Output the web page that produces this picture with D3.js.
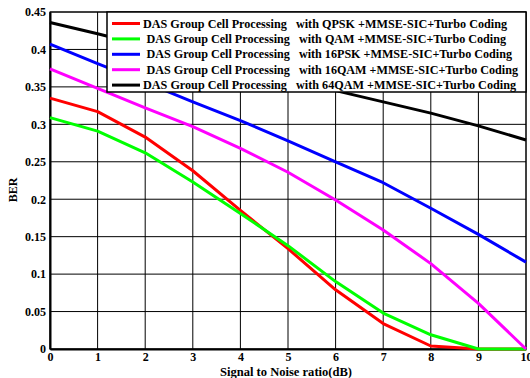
<!DOCTYPE html>
<html>
<head>
<meta charset="UTF-8">
<script src="https://cdn.jsdelivr.net/npm/d3@7"></script>
<style>
  body { margin: 0; background: #fff; }
  svg { display: block; font-family: "Liberation Serif", "Times New Roman", serif; font-weight: bold; }
</style>
</head>
<body>
<svg width="530" height="378"></svg>
<script>
const snr = [0, 1, 2, 3, 4, 5, 6, 7, 8, 9, 10];
const qpsk  = [0.335, 0.317, 0.283, 0.238, 0.185, 0.134, 0.079, 0.034, 0.004, 0, 0];
const qam   = [0.309, 0.291, 0.262, 0.223, 0.181, 0.138, 0.090, 0.048, 0.019, 0, 0];
const psk16 = [0.407, 0.381, 0.356, 0.330, 0.305, 0.278, 0.250, 0.222, 0.188, 0.153, 0.116];
const qam16 = [0.374, 0.348, 0.322, 0.297, 0.268, 0.236, 0.199, 0.159, 0.114, 0.061, 0];
const qam64 = [0.436, 0.421, 0.405, 0.390, 0.375, 0.360, 0.345, 0.330, 0.315, 0.298, 0.279];
const yTicks = [0, 0.05, 0.1, 0.15, 0.2, 0.25, 0.3, 0.35, 0.4, 0.45];
const names = [
  "DAS Group Cell Processing   with QPSK +MMSE-SIC+Turbo Coding",
  "DAS Group Cell Processing   with QAM +MMSE-SIC+Turbo Coding",
  "DAS Group Cell Processing   with 16PSK +MMSE-SIC+Turbo Coding",
  "DAS Group Cell Processing   with 16QAM +MMSE-SIC+Turbo Coding",
  "DAS Group Cell Processing   with 64QAM +MMSE-SIC+Turbo Coding"
];
const colors = ["#ff0000", "#00ff00", "#0000ff", "#ff00ff", "#000000"];
const series = [qpsk, qam, psk16, qam16, qam64];
// legend text start / end in px (to mimic the original spacing)
const legStart = [143, 146.5, 146.5, 146.5, 143];
const legEnd = [507, 506, 512, 518, 516];

const svg = d3.select("svg");
const m = { left: 50, right: 526, top: 12, bottom: 349 };
const x = d3.scaleLinear().domain([0, 10]).range([m.left, m.right]);
const y = d3.scaleLinear().domain([0, 0.45]).range([m.bottom, m.top]);

// grid
svg.append("g").selectAll("line").data(snr).join("line")
  .attr("x1", d => x(d)).attr("x2", d => x(d))
  .attr("y1", m.top).attr("y2", m.bottom)
  .attr("stroke", "#000").attr("stroke-width", 1);
svg.append("g").selectAll("line").data(yTicks).join("line")
  .attr("x1", m.left).attr("x2", m.right)
  .attr("y1", d => y(d)).attr("y2", d => y(d))
  .attr("stroke", "#000").attr("stroke-width", 1);

// frame
svg.append("rect").attr("x", m.left).attr("y", m.top)
  .attr("width", m.right - m.left).attr("height", m.bottom - m.top)
  .attr("fill", "none").attr("stroke", "#000").attr("stroke-width", 1);

// axes
const xAxis = d3.axisBottom(x).tickValues(snr).tickSize(0).tickPadding(3);
const gx = svg.append("g").attr("transform", `translate(0,${m.bottom})`).call(xAxis);
gx.select(".domain").attr("stroke-width", 2);
gx.selectAll("text").attr("font-size", 12).attr("font-family", "Liberation Serif").attr("font-weight", "bold");

const yAxis = d3.axisLeft(y).tickValues(yTicks).tickSize(0).tickPadding(4).tickFormat(d3.format("~g"));
const gy = svg.append("g").attr("transform", `translate(${m.left},0)`).call(yAxis);
gy.select(".domain").attr("stroke-width", 2);
gy.selectAll("text").attr("font-size", 12).attr("font-family", "Liberation Serif").attr("font-weight", "bold");

// lines
const line = d3.line().x((d, i) => x(snr[i])).y(d => y(d));
series.forEach((s, i) => {
  svg.append("path").datum(s).attr("d", line)
    .attr("fill", "none").attr("stroke", colors[i]).attr("stroke-width", 3)
    .attr("stroke-linejoin", "round");
});

// labels
svg.append("text").attr("x", 286).attr("y", 376).attr("text-anchor", "middle")
  .attr("font-size", 12).attr("textLength", 132).attr("lengthAdjust", "spacingAndGlyphs")
  .text("Signal to Noise ratio(dB)");
svg.append("text").attr("transform", "translate(17,190) rotate(-90)").attr("text-anchor", "middle")
  .attr("font-size", 12).text("BER");

// legend
const lg = svg.append("g");
lg.append("rect").attr("x", 107).attr("y", m.top).attr("width", m.right - 107).attr("height", 80)
  .attr("fill", "#fff").attr("stroke", "#000").attr("stroke-width", 1.5);
names.forEach((n, i) => {
  const yy = 23.5 + i * 15.4;
  lg.append("line").attr("x1", 112).attr("x2", 140).attr("y1", yy).attr("y2", yy)
    .attr("stroke", colors[i]).attr("stroke-width", 3);
  lg.append("text").attr("x", legStart[i]).attr("y", yy + 4).attr("font-size", 11.5)
    .attr("textLength", legEnd[i] - legStart[i]).attr("lengthAdjust", "spacingAndGlyphs")
    .style("white-space", "pre").text(n);
});
</script>
</body>
</html>
